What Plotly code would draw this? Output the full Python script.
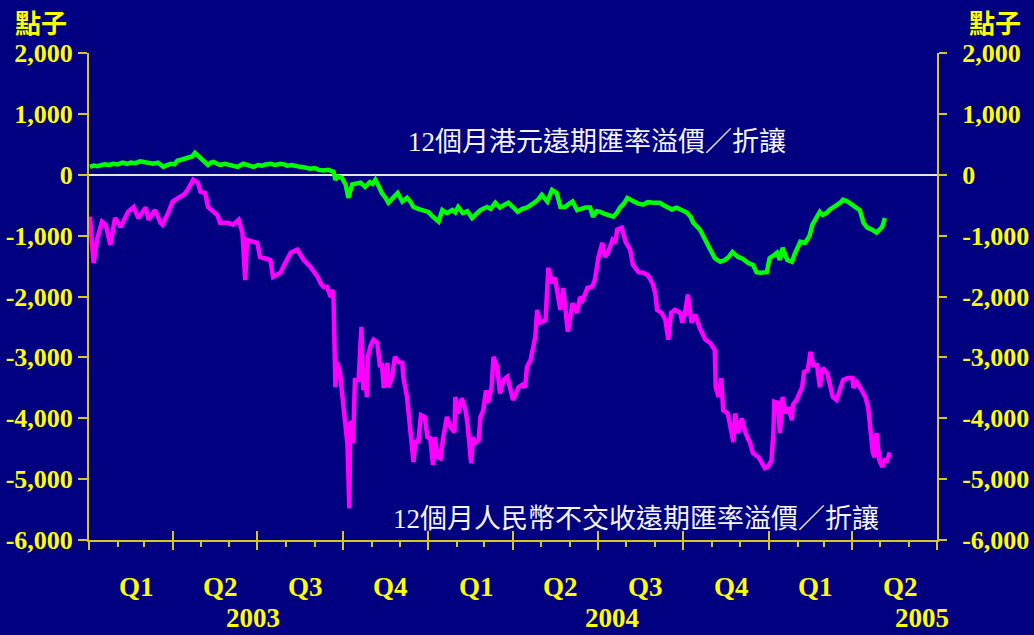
import pandas as pd
import plotly.graph_objects as go

# ---- data (days since 2003-01-01, value in points) ----
rmb_days = [1, 5, 9, 14, 18, 23, 28, 34, 42, 48, 53, 61, 64, 71, 77, 79, 85, 90, 98, 102,
            106, 112, 117, 120, 125, 128, 134, 138, 141, 149, 155, 161, 165, 168, 170, 181,
            184, 195, 198, 206, 209, 217, 224, 231, 238, 246, 249, 252, 256, 260, 262, 263,
            265, 267, 270, 274, 276, 278, 280, 281, 283, 284, 286, 290, 293, 295, 297, 299,
            300, 303, 306, 310, 313, 315, 317, 321, 322, 326, 329, 333, 337, 338, 342, 346,
            349, 351, 354, 357, 361, 364, 367, 370, 372, 375, 378, 381, 385, 389, 393, 394,
            397, 401, 405, 407, 408, 411, 413, 415, 419, 421, 424, 427, 429, 433, 435, 439,
            442, 446, 450, 453, 456, 462, 466, 469, 471, 475, 478, 480, 482, 485, 491, 494,
            498, 501, 507, 510, 515, 520, 525, 528, 531, 536, 541, 544, 548, 552, 555, 558,
            563, 566, 568, 573, 577, 582, 585, 591, 596, 601, 606, 609, 611, 616, 620, 623,
            626, 630, 636, 638, 641, 644, 648, 652, 657, 663, 668, 673, 674, 677, 680, 682,
            687, 693, 695, 698, 702, 706, 711, 714, 720, 724, 727, 730, 734, 736, 737, 741,
            743, 746, 749, 752, 756, 757, 761, 767, 769, 773, 776, 779, 783, 786, 789, 794,
            797, 800, 804, 808, 811, 816, 821, 822, 826, 831, 835, 838, 840, 843, 845, 847,
            850, 853, 856, 858, 861]
rmb_vals = [-690, -1450, -1040, -770, -820, -1150, -710, -860, -610, -530, -710, -540, -740,
            -580, -790, -820, -630, -440, -360, -330, -250, -80, -130, -280, -300, -530, -610,
            -660, -790, -790, -820, -740, -950, -1730, -1070, -1120, -1350, -1400, -1680, -1610,
            -1510, -1280, -1230, -1400, -1510, -1680, -1780, -1840, -1840, -2010, -1890, -2060,
            -3490, -3080, -3260, -3820, -4240, -4440, -5480, -4060, -4080, -4410, -3370, -3370,
            -2500, -3540, -3320, -3650, -2990, -2800, -2710, -2760, -3160, -3090, -3500, -3090,
            -3490, -3320, -2990, -3080, -3090, -3320, -3650, -4200, -4720, -4360, -4410, -3950,
            -3980, -4310, -4330, -4770, -4310, -4640, -4660, -4310, -3980, -4150, -4230, -3650,
            -3920, -3670, -3870, -4080, -4310, -4740, -4310, -4410, -4360, -3980, -3870, -3540,
            -3750, -3490, -2990, -3160, -3590, -3370, -3320, -3490, -3700, -3490, -3450, -3490,
            -3160, -3040, -2830, -2660, -2220, -2430, -2390, -1530, -1780, -1690, -2220, -1860,
            -2580, -2110, -2270, -2010, -2060, -1860, -1840, -1730, -1350, -1120, -1350, -1280,
            -1070, -1120, -900, -870, -1100, -1230, -1480, -1600, -1610, -1650, -1780, -1940,
            -2220, -2270, -2390, -2710, -2270, -2220, -2270, -2430, -2270, -1970, -2430, -2300,
            -2520, -2710, -2760, -2880, -3490, -3650, -3340, -3870, -3920, -4390, -3920, -4240,
            -4000, -4240, -4410, -4570, -4640, -4740, -4820, -4800, -4690, -4240, -3730, -3750,
            -4240, -3650, -3920, -3820, -4030, -3780, -3700, -3490, -3240, -3210, -2910, -3130,
            -3130, -3490, -3170, -3260, -3450, -3650, -3700, -3540, -3370, -3340, -3340, -3500,
            -3410, -3540, -3650, -3820, -4200, -4570, -4640, -4240, -4690, -4800, -4660, -4720,
            -4560]

hkd_days = [1, 5, 9, 12, 17, 22, 26, 31, 36, 41, 45, 50, 55, 59, 64, 69, 74, 80, 84, 88,
            92, 95, 100, 106, 111, 114, 117, 120, 124, 128, 131, 134, 138, 141, 146, 152,
            156, 160, 166, 171, 177, 182, 186, 190, 195, 200, 206, 210, 213, 218, 222, 227,
            232, 238, 243, 247, 252, 257, 263, 265, 268, 272, 276, 279, 283, 288, 292, 297,
            302, 305, 308, 312, 315, 319, 322, 327, 332, 337, 342, 346, 349, 354, 360, 365,
            370, 376, 380, 385, 391, 394, 397, 402, 407, 412, 416, 421, 428, 432, 437, 442,
            446, 451, 456, 461, 466, 471, 477, 483, 487, 490, 493, 498, 503, 507, 512, 516,
            520, 525, 530, 534, 539, 542, 546, 550, 554, 557, 564, 568, 571, 575, 579, 585,
            590, 596, 601, 607, 614, 618, 622, 627, 632, 638, 643, 647, 650, 657, 661, 665,
            670, 673, 679, 684, 688, 692, 698, 703, 709, 714, 718, 722, 729, 732, 736, 740,
            743, 746, 751, 756, 759, 762, 765, 770, 775, 778, 781, 786, 789, 793, 797, 801,
            804, 808, 811, 816, 820, 824, 829, 833, 837, 842, 847, 853, 856, 858, 861]
hkd_vals = [130, 150, 140, 150, 170, 160, 180, 170, 200, 180, 200, 190, 220, 210, 190, 180,
            200, 130, 160, 180, 170, 230, 250, 280, 300, 360, 320, 260, 230, 160, 200, 210,
            180, 160, 180, 160, 140, 130, 180, 150, 130, 160, 150, 170, 180, 160, 180, 170,
            150, 160, 140, 130, 120, 100, 110, 80, 70, 80, 50, -80, -30, -50, -160, -380,
            -160, -140, -130, -200, -120, -150, -80, -200, -300, -380, -460, -380, -300, -440,
            -380, -450, -530, -560, -580, -610, -690, -770, -580, -630, -580, -620, -530, -630,
            -600, -710, -650, -580, -530, -560, -460, -540, -500, -460, -530, -610, -560, -540,
            -480, -410, -330, -400, -440, -250, -300, -530, -530, -480, -440, -580, -560, -540,
            -540, -690, -600, -610, -640, -660, -690, -620, -540, -480, -380, -430, -470, -490,
            -450, -460, -460, -500, -540, -570, -540, -590, -620, -690, -790, -900, -1020,
            -1120, -1270, -1370, -1430, -1400, -1350, -1270, -1350, -1380, -1450, -1480, -1600,
            -1610, -1600, -1370, -1330, -1280, -1400, -1200, -1400, -1430, -1300, -1180, -1100,
            -1120, -1000, -820, -740, -610, -660, -630, -570, -540, -500, -460, -410, -440,
            -490, -530, -580, -790, -870, -900, -950, -860, -710]

y_ticks = [2000, 1000, 0, -1000, -2000, -3000, -4000, -5000, -6000]
y_labels = ["2,000", "1,000", "0", "-1,000", "-2,000", "-3,000", "-4,000", "-5,000", "-6,000"]

quarter_mid = ["2003-02-15", "2003-05-16", "2003-08-15", "2003-11-15", "2004-02-15",
               "2004-05-16", "2004-08-15", "2004-11-15", "2005-02-14", "2005-05-16"]
quarter_labels = ["Q1", "Q2", "Q3", "Q4", "Q1", "Q2", "Q3", "Q4", "Q1", "Q2"]
year_pos = ["2003-06-26", "2004-07-16", "2005-06-15"]
year_labels = ["2003", "2004", "2005"]

hkd_label = "12個月港元遠期匯率溢價／折讓"
rmb_label = "12個月人民幣不交收遠期匯率溢價／折讓"
unit_label = "點子"

start = pd.Timestamp("2003-01-01")
rmb_dates = start + pd.to_timedelta(rmb_days, unit="D")
hkd_dates = start + pd.to_timedelta(hkd_days, unit="D")

# ---- style ----
BG = "#000080"
AX = "#D6C628"
YEL = "#FFFF00"
XR = ["2003-01-01", "2005-07-01"]
YR = [-6000, 2000]
tickfont = dict(family="Liberation Serif", size=26, color=YEL, weight="bold")

fig = go.Figure()
fig.add_trace(go.Scatter(x=rmb_dates, y=rmb_vals, mode="lines",
                         line=dict(color="#FF00FF", width=4.5), xaxis="x", yaxis="y"))
fig.add_trace(go.Scatter(x=hkd_dates, y=hkd_vals, mode="lines",
                         line=dict(color="#00FF00", width=4.5), xaxis="x2", yaxis="y2"))

fig.update_layout(
    width=1034, height=635,
    margin=dict(l=89, r=97, t=53, b=95, autoexpand=False),
    paper_bgcolor=BG, plot_bgcolor=BG,
    showlegend=False,
    xaxis=dict(type="date", range=XR, showgrid=False, zeroline=False, automargin=False,
               showline=True, linecolor=AX, linewidth=2,
               ticks="outside", ticklen=8, tickwidth=2, tickcolor=AX,
               tick0="2003-01-01", dtick="M3", showticklabels=False,
               minor=dict(ticks="outside", ticklen=5, tickwidth=1.5, tickcolor=AX,
                          tick0="2003-01-01", dtick="M1", showgrid=False)),
    xaxis2=dict(type="date", range=XR, overlaying="x", anchor="y2", side="bottom",
                showgrid=False, zeroline=False, showline=False, automargin=False,
                ticks="inside", ticklen=9, tickwidth=2, tickcolor=AX,
                tick0="2003-01-01", dtick="M3", showticklabels=False),
    yaxis=dict(range=YR, showgrid=False, zeroline=True, zerolinecolor="#E4E4E4",
               zerolinewidth=2, showline=True, linecolor=AX, linewidth=2, automargin=False,
               ticks="outside", ticklen=9, tickwidth=2, tickcolor=AX,
               tickvals=y_ticks, ticktext=y_labels, tickfont=tickfont),
    yaxis2=dict(range=YR, overlaying="y", side="right", anchor="x2", showgrid=False,
                zeroline=False, showline=True, linecolor=AX, linewidth=2, automargin=False,
                ticks="outside", ticklen=8, tickwidth=2, tickcolor=AX,
                tickvals=y_ticks, ticktext=y_labels, tickfont=tickfont,
                ticklabelstandoff=10),
)

PX0, PX1, PY0, PY1 = 89, 937, 53, 540


def px_to_paper(px, py):
    return (px - PX0) / (PX1 - PX0), (PY1 - py) / (PY1 - PY0)


ann = []
for d, t in zip(quarter_mid, quarter_labels):
    ann.append(dict(x=d, y=0, xref="x", yref="paper", xanchor="center", yanchor="middle",
                    xshift=6, yshift=-(587 - 540), text=t, showarrow=False,
                    font=dict(family="Liberation Serif", size=27, color=YEL, weight="bold")))
for d, t in zip(year_pos, year_labels):
    ann.append(dict(x=d, y=0, xref="x", yref="paper", xanchor="center", yanchor="middle",
                    yshift=-(618 - 540), text=t, showarrow=False,
                    font=dict(family="Liberation Serif", size=27, color=YEL, weight="bold")))
for (cx, cy), txt in (((597, 142), hkd_label), ((636, 519), rmb_label)):
    x, y = px_to_paper(cx, cy)
    ann.append(dict(x=x, y=y, xref="paper", yref="paper", xanchor="center",
                    yanchor="middle", text=txt, showarrow=False,
                    font=dict(family="Liberation Serif, Noto Sans CJK TC", size=27,
                              color="#F4F4F4")))
for cx in (41, 995):
    x, y = px_to_paper(cx, 22)
    ann.append(dict(x=x, y=y, xref="paper", yref="paper", xanchor="center",
                    yanchor="middle", text=unit_label, showarrow=False,
                    font=dict(family="Noto Sans CJK TC", size=26, color=YEL, weight="bold")))
fig.update_layout(annotations=ann)

fig.write_html("out.html")
